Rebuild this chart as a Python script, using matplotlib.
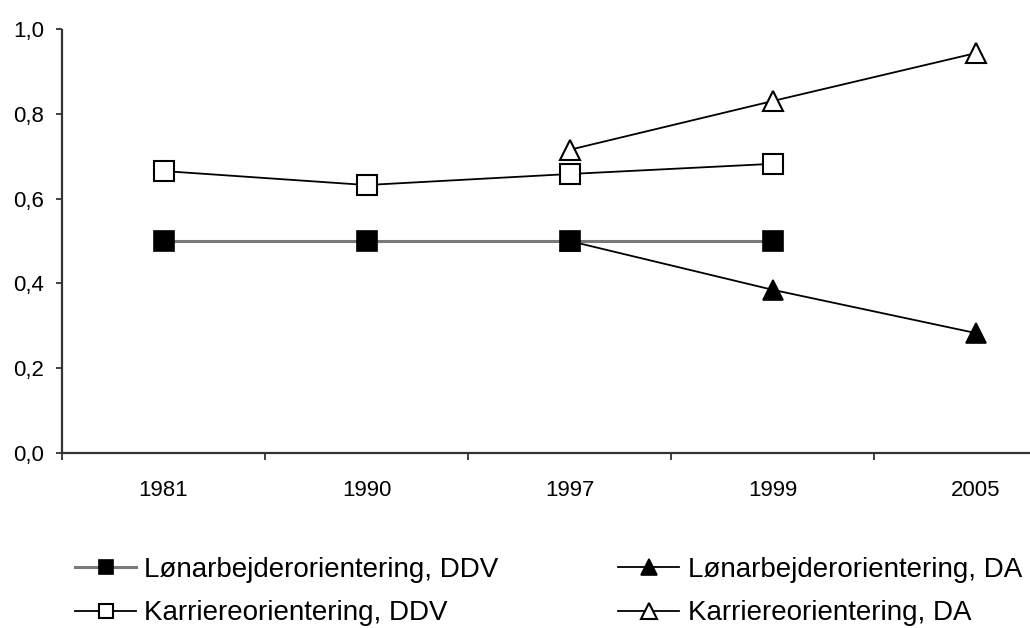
import matplotlib
matplotlib.use("Agg")
import matplotlib.pyplot as plt
from matplotlib.ticker import FixedLocator, FuncFormatter

years = ["1981", "1990", "1997", "1999", "2005"]
lon_ddv = [0.50, 0.50, 0.50, 0.50, None]
kar_ddv = [0.665, 0.632, 0.658, 0.682, None]
lon_da = [None, None, 0.50, 0.385, 0.283]
kar_da = [None, None, 0.715, 0.830, 0.943]
labels = ["Lønarbejderorientering, DDV", "Karriereorientering, DDV",
          "Lønarbejderorientering, DA", "Karriereorientering, DA"]

plt.rcParams['font.family'] = ['Liberation Sans', 'DejaVu Sans']

W, H = 1030, 628
fig = plt.figure(figsize=(W / 100, H / 100), dpi=100)
x0, x1, ytop, ybot = 62, 1077, 29, 453
ax = fig.add_axes([x0 / W, 1 - ybot / H, (x1 - x0) / W, (ybot - ytop) / H])

def pts(vals):
    xs = [i for i, v in enumerate(vals) if v is not None]
    ys = [v for v in vals if v is not None]
    return xs, ys

ms_sq = 14
ms_tr = 15
h_lda, = ax.plot(*pts(lon_da), color='black', lw=1.3, marker='^', ms=ms_tr,
                 mfc='black', mec='black', mew=1.2, zorder=3)
h_kda, = ax.plot(*pts(kar_da), color='black', lw=1.3, marker='^', ms=ms_tr,
                 mfc='white', mec='black', mew=1.5, zorder=3)
h_lddv, = ax.plot(*pts(lon_ddv), color='#7a7a7a', lw=2.2, marker='s', ms=ms_sq,
                  mfc='black', mec='black', mew=1.2, zorder=4)
h_kddv, = ax.plot(*pts(kar_ddv), color='black', lw=1.3, marker='s', ms=ms_sq,
                  mfc='white', mec='black', mew=1.5, zorder=4)

ax.set_xlim(-0.5, 4.5)
ax.set_ylim(0, 1.0)
ax.set_xticks(range(len(years)))
ax.set_xticklabels(years)
ax.xaxis.set_minor_locator(FixedLocator([i - 0.5 for i in range(len(years) + 1)]))
ax.tick_params(axis='x', which='major', length=0, pad=19.5, labelsize=16)
ax.tick_params(axis='x', which='minor', length=5, width=1.3, direction='out', color='#333333')
ax.set_yticks([0, 0.2, 0.4, 0.6, 0.8, 1.0])
ax.yaxis.set_major_formatter(FuncFormatter(lambda v, p: f"{v:.1f}".replace('.', ',')))
ax.tick_params(axis='y', length=4.5, width=1.3, direction='out', pad=8.5,
               labelsize=16, color='#333333')
for s in ['top', 'right']:
    ax.spines[s].set_visible(False)
for s in ['left', 'bottom']:
    ax.spines[s].set_linewidth(1.6)
    ax.spines[s].set_color('#333333')
    ax.spines[s].set_capstyle('butt')

leg = fig.legend([h_lddv, h_kddv, h_lda, h_kda], labels, ncol=2,
                 loc='upper left', bbox_to_anchor=(75 / W, 1 - 557 / H),
                 frameon=False, fontsize=20, borderpad=0, borderaxespad=0,
                 handlelength=2.2, handletextpad=0.3, columnspacing=4.3,
                 labelspacing=0.63, markerscale=0.75)

fig.savefig("out.png", dpi=100)
